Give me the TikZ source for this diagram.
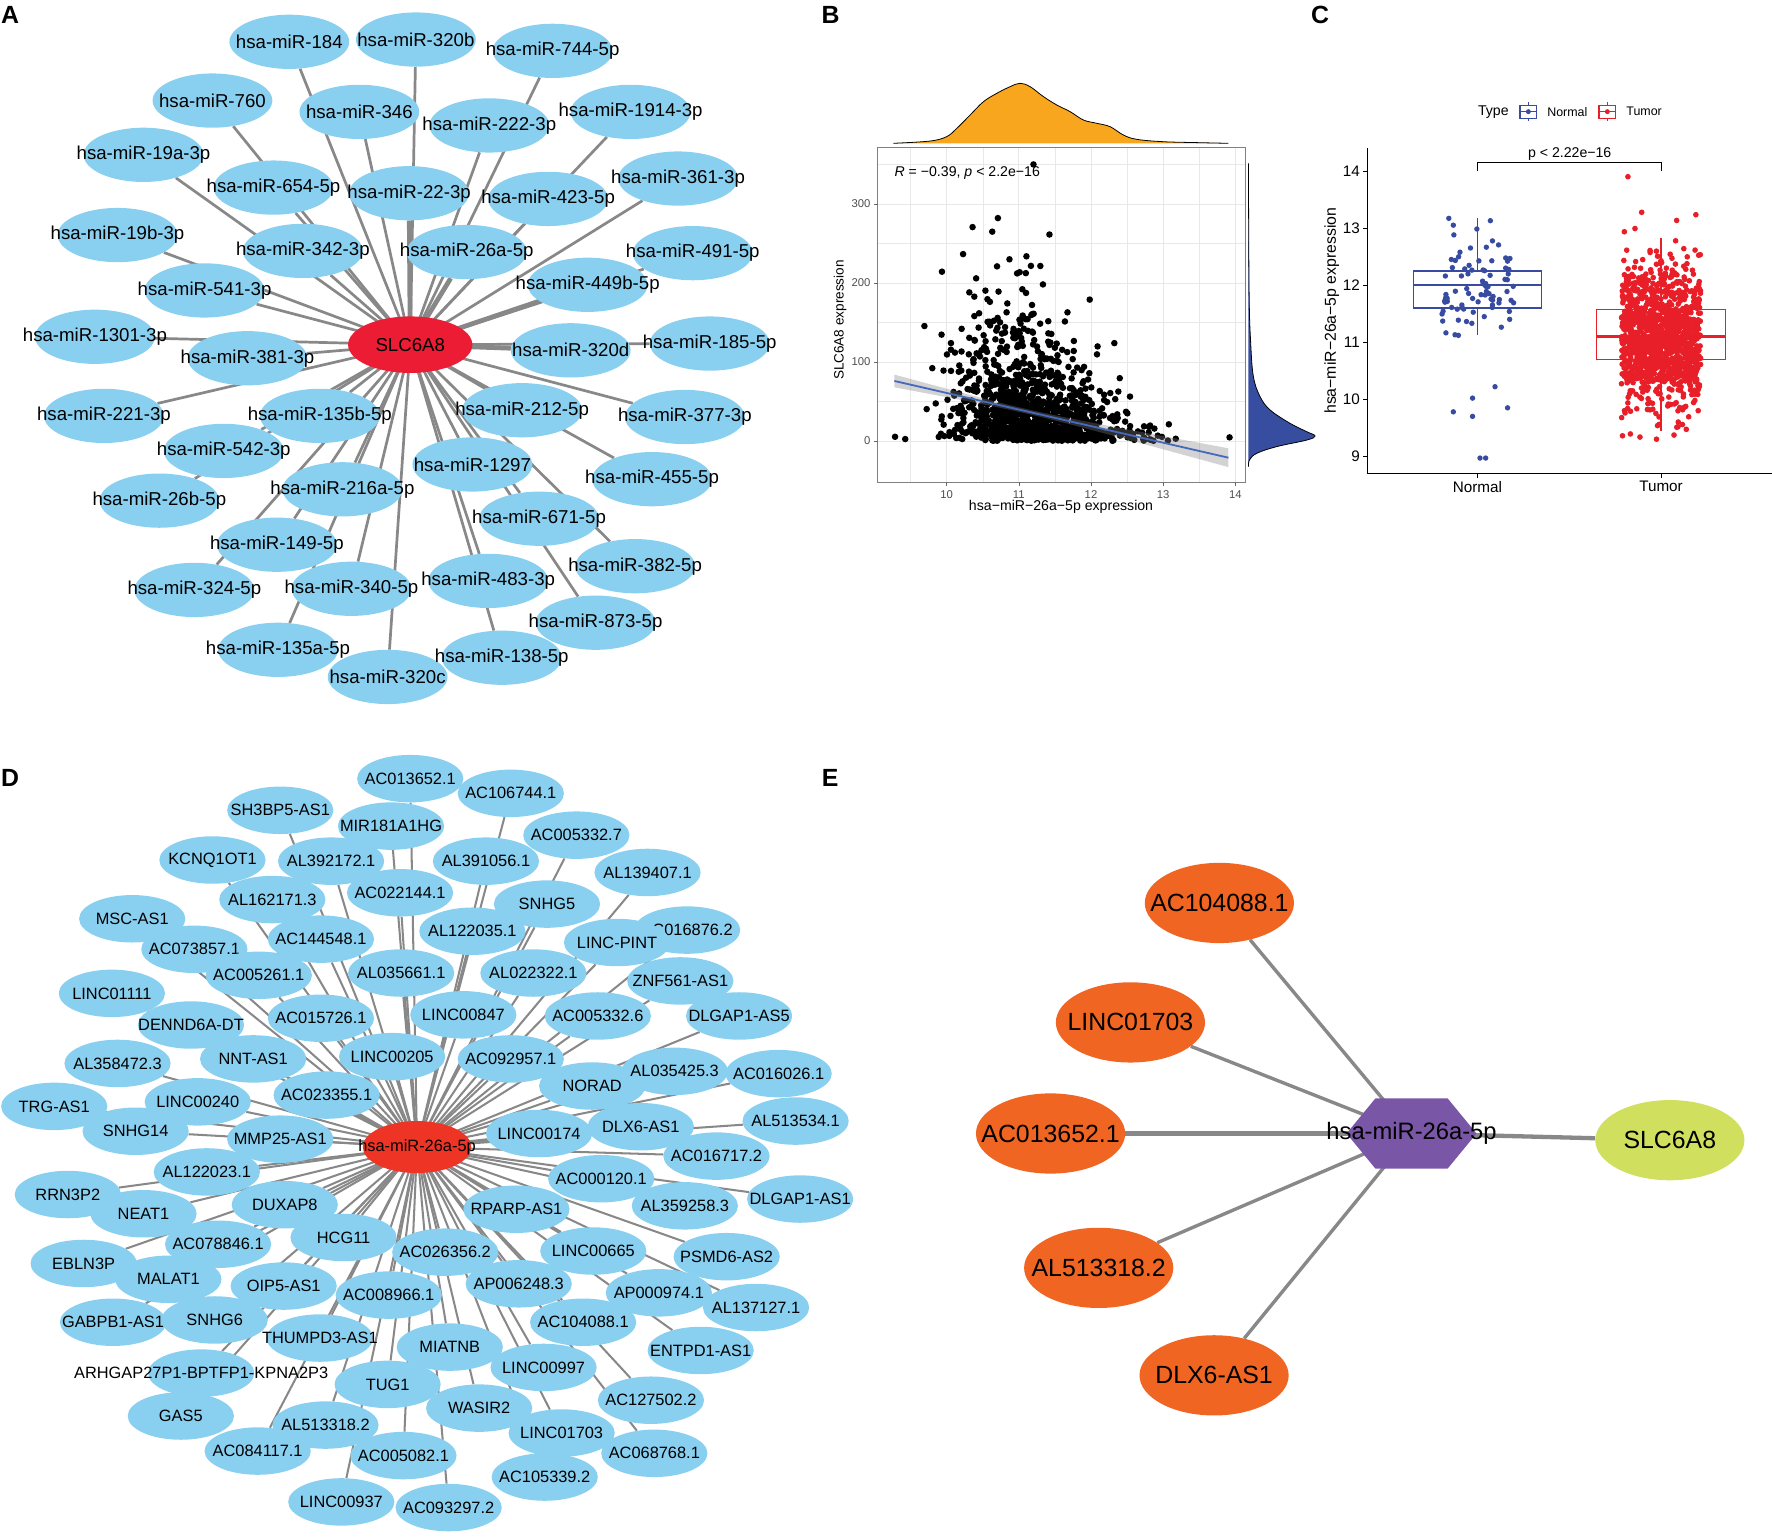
\documentclass[tikz,border=0pt]{standalone}
\usepackage{fontspec}
\setmainfont{Liberation Sans}
\usetikzlibrary{shapes.geometric,backgrounds}
\definecolor{nblue}{RGB}{137,207,240}
\definecolor{nred}{RGB}{236,28,52}
\definecolor{dred}{RGB}{238,52,36}
\definecolor{egray}{RGB}{136,136,136}
\definecolor{dorange}{RGB}{247,166,30}
\definecolor{dblue}{RGB}{55,78,160}
\definecolor{regblue}{RGB}{70,105,190}
\definecolor{cblue}{RGB}{55,75,160}
\definecolor{cred}{RGB}{232,30,40}
\definecolor{eorange}{RGB}{240,101,34}
\definecolor{epurple}{RGB}{121,86,166}
\definecolor{egreen}{RGB}{208,224,94}
\definecolor{tickgray}{RGB}{77,77,77}
\definecolor{gridgray}{RGB}{232,232,232}
\tikzset{
 anode/.style={ellipse, fill=nblue, minimum width=106pt, minimum height=48pt, inner sep=0pt, font=\fontsize{16.5}{18}\selectfont},
 acenter/.style={ellipse, fill=nred, minimum width=110pt, minimum height=50pt, inner sep=0pt, font=\fontsize{16.5}{18}\selectfont},
 aedge/.style={egray, line width=2.4pt},
 dnode/.style={ellipse, fill=nblue, minimum width=94pt, minimum height=42pt, inner sep=0pt, font=\fontsize{14.5}{16}\selectfont},
 dcenter/.style={ellipse, fill=dred, minimum width=96pt, minimum height=46pt, inner sep=0pt, font=\fontsize{14.5}{16}\selectfont},
 dedge/.style={egray, line width=1.8pt},
 enode/.style={ellipse, fill=eorange, minimum width=132pt, minimum height=71pt, inner sep=0pt, font=\fontsize{22}{24}\selectfont},
 eedge/.style={egray, line width=3pt},
 plabel/.style={font=\fontsize{22}{24}\selectfont\bfseries, inner sep=0pt},
 btick/.style={font=\fontsize{10}{12}\selectfont, text=tickgray, inner sep=0pt},
 ctick/.style={font=\fontsize{13.5}{15}\selectfont, inner sep=0pt},
 gridmaj/.style={gridgray, line width=0.7pt},
 gridmin/.style={gridgray, line width=0.35pt},
}
\begin{document}
\begin{tikzpicture}[x=1pt,y=-1pt]
\useasboundingbox (0,0) rectangle (1568,1359.2);
% ---------------- panel labels
\node[plabel] (labA) at (9,13) {A};
\node[plabel] (labB) at (735,13) {B};
\node[plabel] (labC) at (1168,13) {C};
\node[plabel] (labD) at (9,688.5) {D};
\node[plabel] (labE) at (734.5,688.7) {E};
% ---------------- panel A
\foreach \nm/\px/\py/\lab in {a1/256/37/hsa-miR-184, a2/368/35/hsa-miR-320b, a3/489/45/hsa-miR-744-5p, a4/188/89/hsa-miR-760, a5/318/99/hsa-miR-346, a6/433/111/hsa-miR-222-3p, a7/558/99/hsa-miR-1914-3p, a8/127/137/hsa-miR-19a-3p, a9/242/166/hsa-miR-654-5p, a10/362/171/hsa-miR-22-3p, a11/485/176/hsa-miR-423-5p, a12/600/158/hsa-miR-361-3p, a13/104/208/hsa-miR-19b-3p, a14/268/222/hsa-miR-342-3p, a15/413/223/hsa-miR-26a-5p, a16/613/224/hsa-miR-491-5p, a17/520/252/hsa-miR-449b-5p, a18/181/257/hsa-miR-541-3p, a19/84/298/hsa-miR-1301-3p, a20/219/317/hsa-miR-381-3p, a21/505/310/hsa-miR-320d, a22/628/304/hsa-miR-185-5p, a23/92/368/hsa-miR-221-3p, a24/283/368/hsa-miR-135b-5p, a25/462/363/hsa-miR-212-5p, a26/606/369/hsa-miR-377-3p, a27/198/399/hsa-miR-542-3p, a28/418/411/hsa-miR-1297, a29/577/424/hsa-miR-455-5p, a30/141/443/hsa-miR-26b-5p, a31/303/433/hsa-miR-216a-5p, a32/477/459/hsa-miR-671-5p, a33/245/482/hsa-miR-149-5p, a34/562/501/hsa-miR-382-5p, a35/172/522/hsa-miR-324-5p, a36/311/521/hsa-miR-340-5p, a37/432/514/hsa-miR-483-3p, a38/527/551/hsa-miR-873-5p, a39/246/575/hsa-miR-135a-5p, a40/343/599/hsa-miR-320c, a41/444/582/hsa-miR-138-5p}
  {\node[anode] (\nm) at (\px,\py) {\makebox[0pt]{\lab}};}
\node[acenter] (slc) at (363,305) {\makebox[0pt]{SLC6A8}};
\begin{scope}[on background layer]
\foreach \k in {1,...,41} {\draw[aedge] (slc.center) -- (a\k);}
\foreach \k in {10,15,17,21} {\draw[egray, line width=4.2pt] (slc.center) -- (a\k);}
\end{scope}
% ---------------- panel B
\foreach \gx in {805.8,869.6,933.5,997.3,1061.2} {\draw[gridmin] (\gx,130.7) -- (\gx,426.8);}
\foreach \gy in {355.3,285.4,215.5,145.6} {\draw[gridmin] (776.6,\gy) -- (1101.7,\gy);}
\foreach \gx in {837.7,901.55,965.4,1029.25,1093.1} {\draw[gridmaj] (\gx,130.7) -- (\gx,426.8);}
\foreach \gy in {390.2,320.3,250.4,180.5} {\draw[gridmaj] (776.6,\gy) -- (1101.7,\gy);}
\pgfmathsetseed{12345}
\foreach \i in {1,...,1100}{%
  \pgfmathsetmacro{\ua}{0.0005+0.999*rnd}%
  \pgfmathsetmacro{\ub}{rnd}%
  \pgfmathsetmacro{\uc}{0.0005+0.999*rnd}%
  \pgfmathsetmacro{\ud}{rnd}%
  \pgfmathsetmacro{\cen}{ifthenelse(\ud<0.78,11.0,11.9)}%
  \pgfmathsetmacro{\vx}{min(13.9,max(9.3,\cen+0.45*sqrt(-2*ln(\ua))*cos(360*\ub)))}%
  \pgfmathsetmacro{\mm}{min(80,max(6,52-22*(\vx-11)))}%
  \pgfmathsetmacro{\raw}{-\mm*ln(\uc)}%
  \pgfmathsetmacro{\vy}{ifthenelse(\raw>285,\raw*0.4,\raw)}%
  \fill ({837.7+(\vx-10)*63.85},{390.2-\vy*0.699}) circle[radius=2.9pt];
}
\foreach \px/\py in {792/386.5, 801/388.5, 1088/387, 818/288.5, 914.5/145.5, 845/312, 820/362, 828/357, 883/193, 878/205}
  {\fill (\px,\py) circle[radius=2.9pt];}
\fill[gray, opacity=0.35] plot[domain=9.275:13.904, samples=25] ({837.7+(\x-10)*63.85},{337.1+(\x-9.275)*14.668-sqrt(4+8.3*(\x-11.1)*(\x-11.1))}) -- plot[domain=13.904:9.275, samples=25] ({837.7+(\x-10)*63.85},{337.1+(\x-9.275)*14.668+sqrt(4+8.3*(\x-11.1)*(\x-11.1))}) -- cycle;
\draw[regblue, line width=1.6pt] (791.4,337.1) -- (1087,405);
\draw[gray, line width=0.9pt] (776.6,130.7) rectangle (1101.7,426.8);
\foreach \gx/\t in {837.7/10,901.55/11,965.4/12,1029.25/13,1093.1/14}
  {\draw[gray!80!black, line width=0.6pt] (\gx,426.8) -- (\gx,430.3); \node[btick] at (\gx,437.4) {\t};}
\foreach \gy/\t in {390.2/0,320.3/100,250.4/200,180.5/300}
  {\draw[gray!80!black, line width=0.6pt] (776.6,\gy) -- (773.1,\gy); \node[btick, anchor=east] at (770.5,\gy) {\t};}
\node[font=\fontsize{12.5}{14}\selectfont, inner sep=0pt] (bxl) at (938.9,448.3) {hsa−miR−26a−5p expression};
\node[font=\fontsize{12}{14}\selectfont, inner sep=0pt, rotate=90] (byl) at (743.3,283.2) {SLC6A8 expression};
\node[font=\fontsize{12.5}{14}\selectfont, inner sep=0pt, anchor=west] (bann) at (791.4,153.4) {\textit{R} = −0.39, \textit{p} < 2.2e−16};
% top density
\fill[dorange] plot[smooth, tension=0.6] coordinates {(790.5,126.8) (823.0,124.8) (837.7,120.9) (846.6,113.6) (858.4,101.8) (870.2,90.0) (882.0,82.6) (893.8,76.7) (902.6,73.7) (911.5,76.7) (923.3,85.5) (935.1,92.9) (946.9,98.8) (958.7,106.2) (970.5,109.1) (982.3,112.1) (994.1,119.5) (1005.9,123.3) (1029.5,125.4) (1059.0,126.2) (1087.0,126.8)} -- cycle;
\draw[black, line width=0.7pt] plot[smooth, tension=0.6] coordinates {(790.5,126.8) (823.0,124.8) (837.7,120.9) (846.6,113.6) (858.4,101.8) (870.2,90.0) (882.0,82.6) (893.8,76.7) (902.6,73.7) (911.5,76.7) (923.3,85.5) (935.1,92.9) (946.9,98.8) (958.7,106.2) (970.5,109.1) (982.3,112.1) (994.1,119.5) (1005.9,123.3) (1029.5,125.4) (1059.0,126.2) (1087.0,126.8)};
% right density
\fill[dblue] plot[smooth, tension=0.6] coordinates {(1104.7,144.5) (1105.3,259.6) (1106.7,303.8) (1109.1,333.3) (1115.0,351.0) (1123.9,362.8) (1141.5,374.6) (1156.3,382.0) (1163.7,385.8) (1156.3,389.4) (1129.7,395.2) (1112.1,401.1) (1105.6,407.0) (1104.7,413.0)} -- cycle;
\draw[black, line width=0.7pt] plot[smooth, tension=0.6] coordinates {(1104.7,144.5) (1105.3,259.6) (1106.7,303.8) (1109.1,333.3) (1115.0,351.0) (1123.9,362.8) (1141.5,374.6) (1156.3,382.0) (1163.7,385.8) (1156.3,389.4) (1129.7,395.2) (1112.1,401.1) (1105.6,407.0) (1104.7,413.0)};
% ---------------- panel C
\draw[cblue, line width=1.2pt] (1307.3,193.2) -- (1307.3,296.7);
\draw[cblue, line width=1.2pt, fill=white] (1250.6,239.7) rectangle (1364.2,272.5);
\draw[cblue, line width=1.8pt] (1250.6,251.8) -- (1364.2,251.8);
\draw[cred, line width=1.2pt] (1469.8,210.4) -- (1469.8,381.1);
\draw[cred, line width=1.2pt, fill=white] (1412.9,274.0) rectangle (1527,317.9);
\draw[cred, line width=1.8pt] (1412.9,297.75) -- (1527,297.75);
\pgfmathsetseed{777}
\foreach \i in {1,...,80}{%
  \pgfmathsetmacro{\ua}{0.0005+0.999*rnd}%
  \pgfmathsetmacro{\ub}{rnd}%
  \pgfmathsetmacro{\vv}{min(13.2,max(11.12,12.0+0.42*sqrt(-2*ln(\ua))*cos(360*\ub)))}%
  \pgfmathsetmacro{\xx}{1307.3+(rnd-0.5)*66}%
  \fill[cblue] (\xx,{151.3+(14-\vv)*50.5}) circle[radius=2.4pt];
}
\foreach \xx/\vv in {1322.9/10.22, 1303/10.02, 1334/9.85, 1286/9.78, 1303/9.70, 1309.6/8.97, 1314.6/8.97, 1287.5/11.13, 1276.6/11.37, 1282/13.17, 1286/13.05}
  {\fill[cblue] (\xx,{151.3+(14-\vv)*50.5}) circle[radius=2.4pt];}
\foreach \i in {1,...,1200}{%
  \pgfmathsetmacro{\ua}{0.0005+0.999*rnd}%
  \pgfmathsetmacro{\ub}{rnd}%
  \pgfmathsetmacro{\vv}{min(13.4,max(9.3,11.12+0.62*sqrt(-2*ln(\ua))*cos(360*\ub)))}%
  \pgfmathsetmacro{\xx}{1469.8+(rnd-0.5)*70}%
  \fill[cred] (\xx,{151.3+(14-\vv)*50.5}) circle[radius=2.5pt];
}
\fill[cred] (1440.5,{151.3+(14-13.9)*50.5}) circle[radius=2.5pt];
\draw[black, line width=1pt] (1210.2,131.3) -- (1210.2,418.8) -- (1568,418.8);
\foreach \v in {9,...,14}
  {\draw[black, line width=0.8pt] (1210.2,{151.3+(14-\v)*50.5}) -- (1206.2,{151.3+(14-\v)*50.5});
   \node[ctick, anchor=east] at (1203.4,{151.3+(14-\v)*50.5}) {\v};}
\draw[black, line width=0.8pt] (1307.3,418.8) -- (1307.3,422.8);
\draw[black, line width=0.8pt] (1469.8,418.8) -- (1469.8,422.8);
\node[ctick] (cxn) at (1307.3,430.6) {Normal};
\node[ctick] (cxt) at (1469.8,430.6) {Tumor};
\node[font=\fontsize{14}{16}\selectfont, inner sep=0pt, rotate=90] (cyl) at (1178.4,274.9) {hsa−miR−26a−5p expression};
\draw[black, line width=0.8pt] (1307.3,151.3) -- (1307.3,143.4) -- (1469.8,143.4) -- (1469.8,151.3);
\node[font=\fontsize{12.5}{14}\selectfont, inner sep=0pt] (cp) at (1389,136.6) {p < 2.22e−16};
\node[font=\fontsize{12.5}{14}\selectfont, inner sep=0pt] (ctype) at (1321.4,98.8) {Type};
\draw[cblue, line width=1pt] (1352.4,90.5) -- (1352.4,107.5);
\draw[cblue, line width=1pt, fill=white] (1345,93) rectangle (1359.8,104.6);
\draw[cblue, line width=1pt] (1345,98.8) -- (1359.8,98.8);
\fill[cblue] (1352.4,98.8) circle[radius=2.2pt];
\node[font=\fontsize{11}{13}\selectfont, inner sep=0pt] (cnl) at (1386.9,98.8) {Normal};
\draw[cred, line width=1pt] (1422.3,90.5) -- (1422.3,107.5);
\draw[cred, line width=1pt, fill=white] (1414.9,93) rectangle (1429.7,104.6);
\draw[cred, line width=1pt] (1414.9,98.8) -- (1429.7,98.8);
\fill[cred] (1422.3,98.8) circle[radius=2.2pt];
\node[font=\fontsize{11}{13}\selectfont, inner sep=0pt] (ctl) at (1454.8,98.8) {Tumor};
% ---------------- panel D
\foreach \nm/\px/\py/\lab in {d1/363/689/AC013652.1, d2/452/702/AC106744.1, d3/248/717/SH3BP5-AS1, d4/346/731/MIR181A1HG, d5/510/739/AC005332.7, d6/188/761/KCNQ1OT1, d7/293/762/AL392172.1, d8/430/762/AL391056.1, d9/573/772/AL139407.1, d10/241/796/AL162171.3, d11/354/790/AC022144.1, d12/484/800/SNHG5, d13/117/813/MSC-AS1, d14/608/823/AC016876.2, d15/546/834/LINC-PINT, d16/284/831/AC144548.1, d17/418/824/AL122035.1, d18/172/840/AC073857.1, d19/229/863/AC005261.1, d20/355/861/AL035661.1, d21/472/861/AL022322.1, d22/602/868/ZNF561-AS1, d23/99/879/LINC01111, d24/169/907/DENND6A-DT, d25/284/901/AC015726.1, d26/410/898/LINC00847, d27/529/899/AC005332.6, d28/654/899/DLGAP1-AS5, d29/104/941/AL358472.3, d30/224/937/NNT-AS1, d31/347/935/LINC00205, d32/452/937/AC092957.1, d33/48/979/TRG-AS1, d34/175/975/LINC00240, d35/289/969/AC023355.1, d36/524/961/NORAD, d37/597/948/AL035425.3, d38/689/950/AC016026.1, d39/120/1001/SNHG14, d40/248/1008/MMP25-AS1, d41/477/1003/LINC00174, d42/567/997/DLX6-AS1, d43/704/992/AL513534.1, d44/634/1023/AC016717.2, d45/183/1037/AL122023.1, d46/532/1043/AC000120.1, d47/60/1057/RRN3P2, d48/127/1074/NEAT1, d49/252/1066/DUXAP8, d50/457/1070/RPARP-AS1, d51/606/1067/AL359258.3, d52/708/1061/DLGAP1-AS1, d53/193/1101/AC078846.1, d54/304/1095/HCG11, d55/394/1108/AC026356.2, d56/525/1107/LINC00665, d57/643/1112/PSMD6-AS2, d58/74/1118/EBLN3P, d59/149/1132/MALAT1, d60/251/1138/OIP5-AS1, d61/459/1136/AP006248.3, d62/583/1144/AP000974.1, d63/344/1146/AC008966.1, d64/669/1157/AL137127.1, d65/100/1170/GABPB1-AS1, d66/190/1168/SNHG6, d67/516/1170/AC104088.1, d68/283/1184/THUMPD3-AS1, d69/398/1192/MIATNB, d70/620/1195/ENTPD1-AS1, d71/178/1215/ARHGAP27P1-BPTFP1-KPNA2P3, d72/343/1225/TUG1, d73/481/1210/LINC00997, d74/576/1239/AC127502.2, d75/160/1253/GAS5, d76/424/1246/WASIR2, d77/288/1261/AL513318.2, d78/497/1268/LINC01703, d79/228/1284/AC084117.1, d80/357/1288/AC005082.1, d81/579/1286/AC068768.1, d82/482/1307/AC105339.2, d83/302/1329/LINC00937, d84/397/1334/AC093297.2}
  {\node[dnode] (\nm) at (\px,\py) {\makebox[0pt]{\lab}};}
\node[dcenter] (mir) at (369,1015) {\makebox[0pt]{hsa-miR-26a-5p}};
\begin{scope}[on background layer]
\foreach \k in {1,...,84} {\draw[dedge] (mir.center) -- (d\k);}
\end{scope}
% ---------------- panel E
\fill[epurple] (1249,1003) ++(-57.5,0) -- ++(25.5,-31) -- ++(64,0) -- ++(25.5,31) -- ++(-25.5,31) -- ++(-64,0) -- cycle;
\node[font=\fontsize{21}{23}\selectfont, inner sep=0pt] (hub) at (1249,1003) {hsa-miR-26a-5p};
\node[enode] (e1) at (1079,799) {\makebox[0pt]{AC104088.1}};
\node[enode] (e2) at (1000.3,904.7) {\makebox[0pt]{LINC01703}};
\node[enode] (e3) at (929.6,1003) {\makebox[0pt]{AC013652.1}};
\node[enode] (e4) at (972.2,1121.9) {\makebox[0pt]{AL513318.2}};
\node[enode] (e5) at (1074.3,1217) {\makebox[0pt]{DLX6-AS1}};
\node[enode, fill=egreen] (e6) at (1477.6,1008.9) {\makebox[0pt]{SLC6A8}};
\begin{scope}[on background layer]
\foreach \k in {1,2,4,5} {\draw[eedge] (hub.center) -- (e\k);}
\draw[egray, line width=3.8pt] (hub.center) -- (e3);
\draw[egray, line width=3.8pt] (hub.center) -- (e6);
\end{scope}
\end{tikzpicture}
\end{document}
